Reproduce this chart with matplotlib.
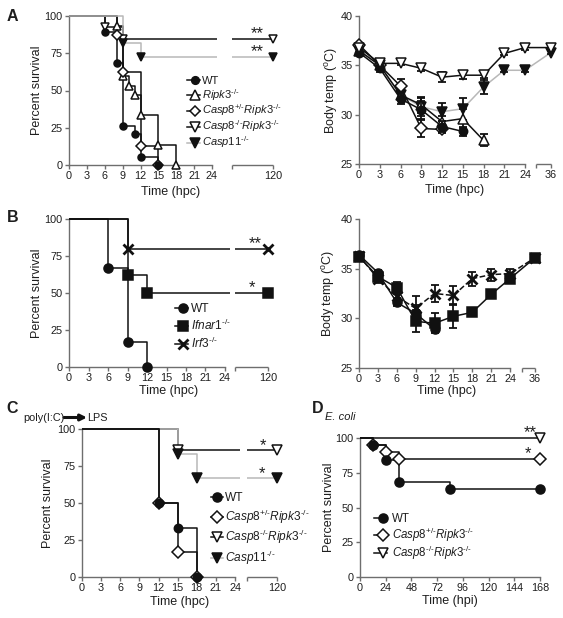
import numpy as np
import matplotlib
matplotlib.use('Agg')
import matplotlib.pyplot as plt
from matplotlib.lines import Line2D
from matplotlib.patches import FancyArrowPatch
import matplotlib.transforms as mtrans

plt.rcParams['font.family'] = ['Liberation Sans', 'DejaVu Sans']
plt.rcParams['mathtext.fontset'] = 'custom'
plt.rcParams['mathtext.rm'] = 'Liberation Sans'
plt.rcParams['mathtext.it'] = 'Liberation Sans:italic'
plt.rcParams['mathtext.bf'] = 'Liberation Sans:bold'
plt.rcParams['axes.unicode_minus'] = False

TXT = '#1e1e1e'
SPN = '#6e6e6e'
BLK = '#111111'
GRY = '#b8b8b8'

# ---------------- DATA ----------------
# Panel A survival: event times (hpc) and % survival after each event
A_wt_t = [6, 8, 9, 11, 12, 15]
A_wt_p = [89.5, 68.4, 26.3, 21.1, 5.3, 0]
A_ripk3_t = [8, 9, 10, 11, 12, 15, 18]
A_ripk3_p = [93.3, 60, 53.3, 46.7, 33.3, 13.3, 0]
A_c8het_t = [8, 9, 12, 15]
A_c8het_p = [87.5, 62.5, 12.5, 0]
A_c8ko_t = [6, 9]
A_c8ko_p = [92.3, 84.6]
A_c11_t = [9, 12]
A_c11_p = [81.8, 72.7]

# Panel A body temperature (mean, error)
A_temp_t = [0, 3, 6, 9, 12, 15, 18, 21, 24, 36]
A_temp_wt = [36.3, 34.7, 31.6, 30.5, 28.8, 28.3]
A_temp_wt_e = [0.3, 0.4, 0.5, 0.9, 0.6, 0.5]
A_temp_ripk3 = [36.5, 35.0, 32.0, 31.0, 29.3, 29.6, 27.4]
A_temp_ripk3_e = [0.3, 0.5, 0.5, 0.8, 0.6, 1.0, 0.6]
A_temp_c8het = [37.1, 35.0, 32.9, 28.6, 28.5]
A_temp_c8het_e = [0.2, 0.3, 0.7, 0.9, 0.4]
A_temp_c8ko = [36.8, 35.2, 35.2, 34.7, 33.8, 34.0, 34.0, 36.2, 36.8, 36.8]
A_temp_c8ko_e = [0.2, 0.3, 0.2, 0.3, 0.5, 0.4, 0.3, 0.2, 0.2, 0.1]
A_temp_c11 = [36.5, 35.0, 32.0, 30.8, 30.3, 30.6, 32.8, 34.5, 34.5, 36.3]
A_temp_c11_e = [0.3, 0.4, 0.4, 0.9, 0.9, 1.1, 0.7, 0.2, 0.2, 0.2]

# Panel B survival
B_wt_t = [6, 9, 12]
B_wt_p = [66.7, 16.7, 0]
B_ifnar_t = [9, 12]
B_ifnar_p = [62.5, 50]
B_irf3_t = [9]
B_irf3_p = [80]

# Panel B body temperature
B_temp_t = [0, 3, 6, 9, 12, 15, 18, 21, 24, 36]
B_temp_wt = [36.4, 34.6, 31.6, 30.5, 28.9]
B_temp_wt_e = [0.2, 0.3, 0.4, 0.8, 0.3]
B_temp_ifnar = [36.2, 34.2, 33.1, 29.7, 29.5, 30.2, 30.6, 32.4, 34.0, 36.1]
B_temp_ifnar_e = [0.2, 0.3, 0.6, 1.1, 1.0, 1.2, 0.3, 0.3, 0.3, 0.2]
B_temp_irf3 = [36.3, 34.0, 32.2, 31.0, 32.5, 32.3, 34.0, 34.4, 34.5, 36.1]
B_temp_irf3_e = [0.2, 0.4, 0.5, 1.2, 0.9, 1.0, 0.7, 0.6, 0.5, 0.2]

# Panel C survival (poly(I:C) -> LPS)
C_wt_t = [12, 15, 18]
C_wt_p = [50, 33.3, 0]
C_c8het_t = [12, 15, 18]
C_c8het_p = [50, 16.7, 0]
C_c8ko_t = [15]
C_c8ko_p = [85.7]
C_c11_t = [15, 18]
C_c11_p = [83.3, 66.7]

# Panel D survival (E. coli, hpi)
D_wt_t = [12, 24, 36, 84]
D_wt_p = [94.7, 84.2, 68.4, 63.2]
D_c8het_t = [12, 24, 36]
D_c8het_p = [95, 90, 85]
D_c8ko_t = []
D_c8ko_p = []

hpc_ticks = [0, 3, 6, 9, 12, 15, 18, 21, 24]
surv_ticks = [0, 25, 50, 75, 100]
temp_ticks = [25, 30, 35, 40]
D_ticks = [0, 24, 48, 72, 96, 120, 144, 168]

L_WT = 'WT'
L_RIPK3 = r'$\mathit{Ripk3}^{\text{-/-}}$'
L_C8HET = r'$\mathit{Casp8}^{\text{+/-}}\mathit{Ripk3}^{\text{-/-}}$'
L_C8KO = r'$\mathit{Casp8}^{\text{-/-}}\mathit{Ripk3}^{\text{-/-}}$'
L_C11 = r'$\mathit{Casp11}^{\text{-/-}}$'
L_IFNAR = r'$\mathit{Ifnar1}^{\text{-/-}}$'
L_IRF3 = r'$\mathit{Irf3}^{\text{-/-}}$'

# ---------------- FIGURE ----------------
W, H = 563, 618
fig = plt.figure(figsize=(W / 100, H / 100), dpi=100)

TICK_FS = 7.8
LAB_FS = 9.0
LEG_FS = 8.6


def add_ax(x0, y0, x1, y1):
    return fig.add_axes([x0 / W, 1 - y1 / H, (x1 - x0) / W, (y1 - y0) / H])


def broken_x(ax, px0, px24, pxb0, pxb1, main_hi, brk_lo, brk_hi, extra=1.0):
    u = (px24 - px0) / main_hi
    dp = np.array([0, main_hi + extra, brk_lo, brk_hi], float)
    sp = np.array([0, main_hi + extra, (pxb0 - px0) / u, (pxb1 - px0) / u], float)
    ax.set_xscale('function', functions=(lambda x: np.interp(x, dp, sp),
                                         lambda x: np.interp(x, sp, dp)))
    ax.set_xlim(0, brk_hi)
    ax.spines['bottom'].set_bounds(0, main_hi)
    ax.plot([brk_lo, brk_hi], [0, 0], transform=ax.get_xaxis_transform(),
            color=SPN, lw=1, clip_on=False, solid_capstyle='butt')


def style(ax, yticks, ylim, xticks, xlabels):
    for s in ['top', 'right']:
        ax.spines[s].set_visible(False)
    for s in ['left', 'bottom']:
        ax.spines[s].set_color(SPN)
        ax.spines[s].set_linewidth(1)
    ax.set_ylim(*ylim)
    ax.set_yticks(yticks)
    ax.set_xticks(xticks)
    ax.set_xticklabels(xlabels)
    ax.tick_params(colors=SPN, labelcolor=TXT, labelsize=TICK_FS, length=3, width=1, pad=1.5)


def labels(ax, ylab, ylab_x, xlab, xlab_y):
    ax.set_ylabel(ylab, fontsize=LAB_FS, color=TXT)
    ax.yaxis.set_label_coords(ylab_x / W, 0.5,
                              transform=mtrans.blended_transform_factory(fig.transFigure, ax.transAxes))
    ax.set_xlabel(xlab, fontsize=LAB_FS, color=TXT, va='top')
    ax.xaxis.set_label_coords(0.5, 1 - xlab_y / H,
                              transform=mtrans.blended_transform_factory(ax.transAxes, fig.transFigure))


def km(ax, t, p, color, marker, mfc, ms, z, line_end=24.8, brk_lo=110, end=120, broken=True):
    xs = [0] + list(t)
    ys = [100] + list(p)
    last = ys[-1]
    mx, my = list(t), list(p)
    if last > 0:
        if broken:
            xs = xs + [line_end]
            ys = ys + [last]
            ax.plot([brk_lo, end], [last, last], color=color, lw=1.1, zorder=z, clip_on=False,
                    solid_capstyle='butt')
        else:
            xs = xs + [end]
            ys = ys + [last]
        mx.append(end)
        my.append(last)
    ax.plot(xs, ys, drawstyle='steps-post', color=color, lw=1.1, zorder=z, clip_on=False,
            solid_capstyle='butt')
    mew = 2.0 if marker == 'x' else 1.1
    ax.plot(mx, my, ls='none', marker=marker, mfc=mfc, mec=BLK, mew=mew, ms=ms,
            zorder=z + 10, clip_on=False)


def temp(ax, t, y, e, color, marker, mfc, ms, z, ls='-'):
    tt = t[:len(y)]
    ax.plot(tt, y, color=color, lw=1.1, ls=ls, zorder=z, clip_on=False)
    ax.errorbar(tt, y, yerr=e, fmt='none', ecolor=BLK, elinewidth=1.3, capsize=2.8,
                capthick=1.3, zorder=z + 1)
    mew = 2.0 if marker == 'x' else 1.1
    ax.plot(tt, y, ls='none', marker=marker, mfc=mfc, mec=BLK, mew=mew, ms=ms,
            zorder=z + 2, clip_on=False)


def stars(ax, x, y, s, dx_px, dy_px):
    ax.annotate(s, xy=(x, y), xytext=(dx_px * 0.72, dy_px * 0.72), textcoords='offset points',
                ha='right', va='center', fontsize=12, color=TXT, zorder=30)


def legend(entries, x0, xm, x1, xt, ys, fs=LEG_FS):
    for (lab, lc, mk, mfc, ms), y in zip(entries, ys):
        yf = 1 - y / H
        fig.add_artist(Line2D([x0 / W, x1 / W], [yf, yf], color=lc, lw=1.1,
                              transform=fig.transFigure))
        fig.add_artist(Line2D([xm / W], [yf], ls='none', marker=mk, mfc=mfc, mec=BLK,
                              mew=2.0 if mk == 'x' else 1.1, ms=ms, transform=fig.transFigure))
        fig.text(xt / W, 1 - (y + 4) / H, lab, fontsize=fs, ha='left', va='baseline', color=TXT)


# ---------- Panel A left ----------
ax = add_ax(69, 16, 273, 165)
broken_x(ax, 69, 212, 232, 273, 24, 110, 120)
style(ax, surv_ticks, (0, 100), hpc_ticks + [110, 120], [str(v) for v in hpc_ticks] + ['', '120'])
km(ax, A_c8ko_t, A_c8ko_p, BLK, 'v', 'white', 6, 3)
km(ax, A_ripk3_t, A_ripk3_p, BLK, '^', 'white', 6, 4)
km(ax, A_c8het_t, A_c8het_p, BLK, 'D', 'white', 5, 5)
km(ax, A_wt_t, A_wt_p, BLK, 'o', BLK, 5, 6)
km(ax, A_c11_t, A_c11_p, GRY, 'v', BLK, 6, 7)
stars(ax, 120, A_c8ko_p[-1], '**', -9, 5)
stars(ax, 120, A_c11_p[-1], '**', -9, 5)
labels(ax, 'Percent survival', 43, 'Time (hpc)', 186)
legend([(L_WT, BLK, 'o', BLK, 5.5), (L_RIPK3, BLK, '^', 'white', 6.5),
        (L_C8HET, BLK, 'D', 'white', 5.5), (L_C8KO, BLK, 'v', 'white', 6.5),
        (L_C11, GRY, 'v', BLK, 6.5)], 187, 195, 200, 202, [79.5, 95, 110.5, 126.5, 142.5],
       fs=8.0)

# ---------- Panel A right ----------
ax = add_ax(359, 16, 551, 164)
broken_x(ax, 359, 525, 536, 551, 24, 33, 36)
style(ax, temp_ticks, (25, 40), hpc_ticks + [33, 36], [str(v) for v in hpc_ticks] + ['', '36'])
temp(ax, A_temp_t, A_temp_c11, A_temp_c11_e, GRY, 'v', BLK, 6.5, 3)
temp(ax, A_temp_t, A_temp_ripk3, A_temp_ripk3_e, BLK, '^', 'white', 6.5, 6)
temp(ax, A_temp_t, A_temp_c8het, A_temp_c8het_e, BLK, 'D', 'white', 6, 9)
temp(ax, A_temp_t, A_temp_wt, A_temp_wt_e, BLK, 'o', BLK, 6, 12)
temp(ax, A_temp_t, A_temp_c8ko, A_temp_c8ko_e, BLK, 'v', 'white', 6.5, 15)
labels(ax, r'Body temp ($^{\rm o}$C)', 340, 'Time (hpc)', 184)

# ---------- Panel B left ----------
ax = add_ax(69, 219, 268, 367)
broken_x(ax, 69, 225, 235, 268, 24, 110, 120)
style(ax, surv_ticks, (0, 100), hpc_ticks + [110, 120], [str(v) for v in hpc_ticks] + ['', '120'])
km(ax, B_irf3_t, B_irf3_p, BLK, 'x', BLK, 6.5, 3)
km(ax, B_ifnar_t, B_ifnar_p, BLK, 's', BLK, 6.5, 4)
km(ax, B_wt_t, B_wt_p, BLK, 'o', BLK, 6.5, 5)
stars(ax, 120, B_irf3_p[-1], '**', -6, 5)
stars(ax, 120, B_ifnar_p[-1], '*', -13, 5)
labels(ax, 'Percent survival', 43, 'Time (hpc)', 385)
legend([(L_WT, BLK, 'o', BLK, 6.5), (L_IFNAR, BLK, 's', BLK, 6.5),
        (L_IRF3, BLK, 'x', BLK, 6.5)], 175, 183, 188, 191, [308, 326, 344])

# ---------- Panel B right ----------
ax = add_ax(359, 219, 535, 368)
broken_x(ax, 359, 510, 522, 535, 24, 33, 36)
style(ax, temp_ticks, (25, 40), hpc_ticks + [33, 36], [str(v) for v in hpc_ticks] + ['', '36'])
temp(ax, B_temp_t, B_temp_irf3, B_temp_irf3_e, BLK, 'x', BLK, 6.5, 3, ls='--')
temp(ax, B_temp_t, B_temp_ifnar, B_temp_ifnar_e, BLK, 's', BLK, 6.5, 6)
temp(ax, B_temp_t, B_temp_wt, B_temp_wt_e, BLK, 'o', BLK, 6.5, 9)
labels(ax, r'Body temp ($^{\rm o}$C)', 337, 'Time (hpc)', 385)

# ---------- Panel C ----------
ax = add_ax(82, 429, 277, 577)
broken_x(ax, 82, 235, 247, 277, 24, 110, 120)
style(ax, surv_ticks, (0, 100), hpc_ticks + [110, 120], [str(v) for v in hpc_ticks] + ['', '120'])
km(ax, C_c8ko_t, C_c8ko_p, BLK, 'v', 'white', 6.5, 2)
km(ax, C_c11_t, C_c11_p, GRY, 'v', BLK, 6.5, 3)
km(ax, C_c8het_t, C_c8het_p, BLK, 'D', 'white', 6, 4)
km(ax, C_wt_t, C_wt_p, BLK, 'o', BLK, 6, 5)
stars(ax, 120, C_c8ko_p[-1], '*', -11, 5)
stars(ax, 120, C_c11_p[-1], '*', -12, 5)
labels(ax, 'Percent survival', 54, 'Time (hpc)', 596)
legend([(L_WT, BLK, 'o', BLK, 6.5), (L_C8HET, BLK, 'D', 'white', 6),
        (L_C8KO, BLK, 'v', 'white', 6.5), (L_C11, GRY, 'v', BLK, 6.5)],
       211, 217, 223, 225, [497, 517, 537, 558])

# ---------- Panel D ----------
ax = add_ax(360, 438, 540, 577)
ax.set_xlim(0, 168)
style(ax, surv_ticks, (0, 100), D_ticks, [str(v) for v in D_ticks])
km(ax, D_c8ko_t, D_c8ko_p, BLK, 'v', 'white', 6.5, 3, end=168, broken=False)
km(ax, D_c8het_t, D_c8het_p, BLK, 'D', 'white', 6, 4, end=168, broken=False)
km(ax, D_wt_t, D_wt_p, BLK, 'o', BLK, 6.5, 5, end=168, broken=False)
stars(ax, 168, 100, '**', -3, 5)
stars(ax, 168, D_c8het_p[-1], '*', -9, 5)
labels(ax, 'Percent survival', 335, 'Time (hpi)', 595)
legend([(L_WT, BLK, 'o', BLK, 6.5), (L_C8HET, BLK, 'D', 'white', 6),
        (L_C8KO, BLK, 'v', 'white', 6.5)], 374, 383, 387, 392, [518, 535, 553], fs=8.3)

# ---------- Panel letters and annotations ----------
for letter, x, y in [('A', 7, 21), ('B', 7, 222), ('C', 6, 413), ('D', 312, 413)]:
    fig.text(x / W, 1 - y / H, letter, fontsize=11.5, fontweight='bold', color=TXT,
             ha='left', va='baseline')
fig.text(23 / W, 1 - 421 / H, 'poly(I:C)', fontsize=7.8, color=TXT, ha='left', va='baseline')
fig.text(87 / W, 1 - 421 / H, 'LPS', fontsize=7.8, color=TXT, ha='left', va='baseline')
fig.add_artist(FancyArrowPatch((64 / W, 1 - 417.5 / H), (87 / W, 1 - 417.5 / H),
                               transform=fig.transFigure, arrowstyle='-|>', mutation_scale=9,
                               lw=2.2, color=BLK, shrinkA=0, shrinkB=0))
fig.text(325 / W, 1 - 420 / H, 'E. coli', fontsize=8, fontstyle='italic', color=TXT,
         ha='left', va='baseline')

fig.savefig('out.png', dpi=100)
